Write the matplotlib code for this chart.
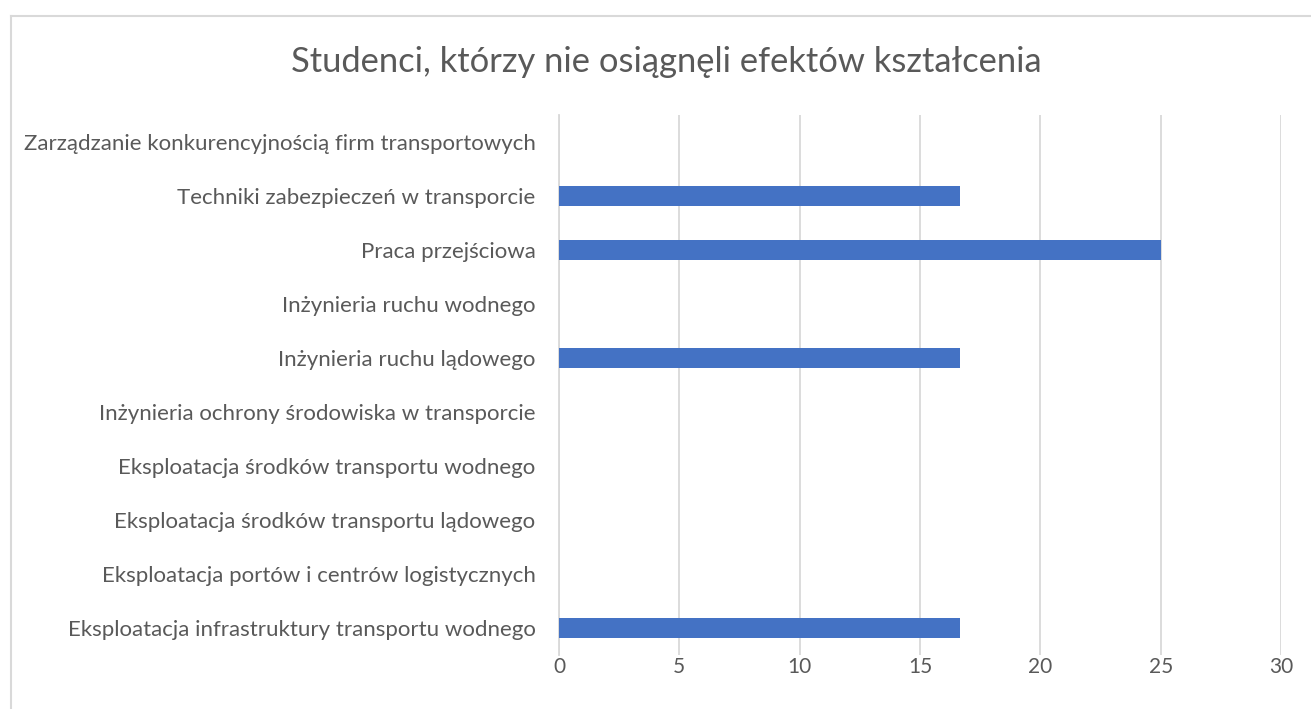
import matplotlib.pyplot as plt
from matplotlib.lines import Line2D

categories = [
    'Eksploatacja infrastruktury transportu wodnego',
    'Eksploatacja portów i centrów logistycznych',
    'Eksploatacja środków transportu lądowego',
    'Eksploatacja środków transportu wodnego',
    'Inżynieria ochrony środowiska w transporcie',
    'Inżynieria ruchu lądowego',
    'Inżynieria ruchu wodnego',
    'Praca przejściowa',
    'Techniki zabezpieczeń w transporcie',
    'Zarządzanie konkurencyjnością firm transportowych',
]
values = [16.67, 0, 0, 0, 0, 16.67, 0, 25, 16.67, 0]
xticks = [0, 5, 10, 15, 20, 25, 30]

plt.rcParams['font.family'] = ['Lato', 'DejaVu Sans']
text_col = '#595959'

fig = plt.figure(figsize=(13.11, 7.09), dpi=100)
ax = fig.add_axes([0.4264, 0.076, 0.5507, 0.762])

ax.barh(range(len(categories)), values, height=0.37, color='#4472C4', zorder=3)
ax.set_xlim(0, 30)
ax.set_ylim(-0.5, len(categories) - 0.5)
ax.set_xticks(xticks)
ax.set_yticks(range(len(categories)))
ax.set_yticklabels(categories)
ax.grid(axis='x', color='#D9D9D9', linewidth=1.3, zorder=0)
for s in ['top', 'right', 'bottom']:
    ax.spines[s].set_visible(False)
ax.spines['left'].set_color('#D9D9D9')
ax.spines['left'].set_linewidth(1.3)
ax.tick_params(length=0, labelsize=16, colors=text_col, pad=17)
ax.tick_params(axis='x', labelsize=15, pad=1)

fig.text(0.508, 0.913, 'Studenci, którzy nie osiągnęli efektów kształcenia',
         ha='center', va='center', fontsize=24.8, color=text_col)

# chart frame
fc = '#D9D9D9'
fig.add_artist(Line2D([0.0085, 0.0085], [0, 0.978], color=fc, lw=1.5, transform=fig.transFigure))
fig.add_artist(Line2D([0.0085, 1], [0.978, 0.978], color=fc, lw=1.5, transform=fig.transFigure))

fig.savefig('out.png', dpi=100)
